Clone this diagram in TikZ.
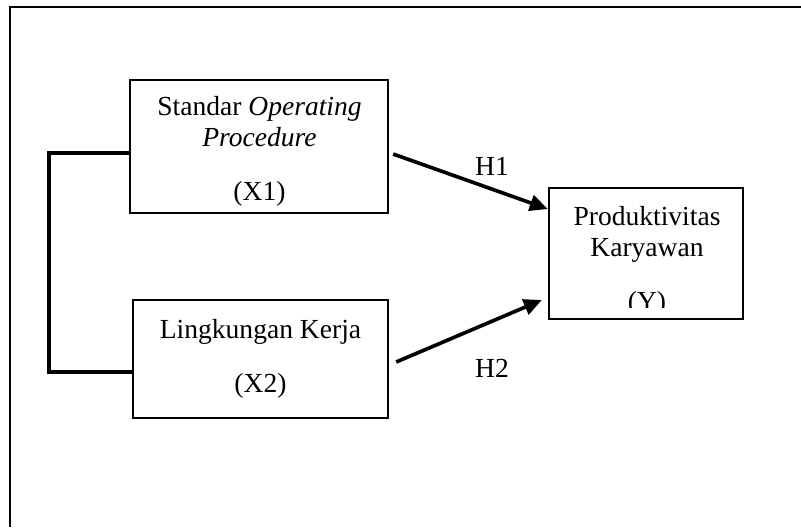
\documentclass[tikz,border=0pt]{standalone}
\usepackage{fontspec}
\setmainfont{Liberation Serif}
\usetikzlibrary{positioning,calc,arrows.meta}

\begin{document}
\begin{tikzpicture}[
    x=0.025cm, y=-0.025cm,
    var/.style={rectangle, draw=black, line width=1.6pt, align=center, inner sep=0pt, font=\fontsize{19.6}{22.4}\selectfont},
    hyp/.style={-{Triangle[length=0.45cm, width=0.4cm]}, line width=2.6pt},
    hyplabel/.style={font=\fontsize{19.6}{22.4}\selectfont}
]
\useasboundingbox (0,0) rectangle (801,527);

% Frame
\draw[line width=1.6pt] (10,527) -- (10,7) -- (801,7);

% Variables
\node[var, minimum width=6.45cm, minimum height=3.325cm] (x1) at (259,146.5) {};
\node[hyplabel, align=center] (x1text) at (259.5,151) {Standar \textit{Operating}\\ \textit{Procedure}\\[0.55cm] (X1)};
\node[var, minimum width=6.375cm, minimum height=2.95cm] (x2) at (260.5,359) {Lingkungan Kerja\\[0.55cm] (X2)};
\node[var, minimum width=4.85cm, minimum height=3.275cm] (y) at (646,253.5) {};
\node[hyplabel, align=center] (ytext) at (647,234.5) {Produktivitas\\Karyawan};
\begin{scope}
  \clip (560,280) rectangle (735,307);
  \node[hyplabel, anchor=base] (yname) at (647,310) {(Y)};
\end{scope}

% Correlation X1 -- X2
\draw[line width=2.9pt] ([shift={(0,6.5)}]x1.west) -- ++(-80,0) |- ([shift={(0,13)}]x2.west);

% Hypotheses
\draw[hyp] ([shift={(4,7.5)}]x1.east) -- ([shift={(0,-44.5)}]y.west);
\draw[hyp] ([shift={(7,3)}]x2.east) -- ([shift={(-6,46.5)}]y.west);
\node[hyplabel, anchor=base] (h1) at (492,175) {H1};
\node[hyplabel, anchor=base] (h2) at (492,377) {H2};

\end{tikzpicture}
\end{document}
